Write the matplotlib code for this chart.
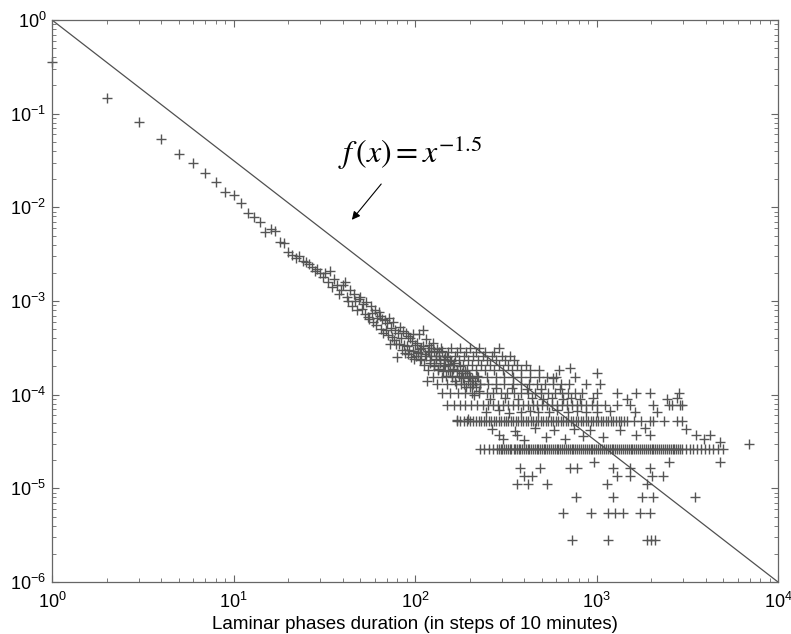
import matplotlib
matplotlib.use("Agg")
import matplotlib.pyplot as plt

plt.rcParams['font.family'] = 'Liberation Sans'
plt.rcParams['mathtext.fontset'] = 'custom'
plt.rcParams['mathtext.rm'] = 'Liberation Sans'
plt.rcParams['mathtext.it'] = 'Liberation Sans:italic'
plt.rcParams['mathtext.bf'] = 'Liberation Sans:bold'

# --- data ---
# short phases, one point per duration
head_x = list(range(1, 31))
head_y = [0.356, 0.147, 0.082, 0.054, 0.037, 0.030, 0.023, 0.0187, 0.0147, 0.0136,
          0.0112, 0.0087, 0.0079, 0.0070, 0.0055, 0.0058, 0.0056, 0.0043, 0.0042, 0.0033,
          0.0031, 0.0029, 0.0030, 0.0027, 0.0026, 0.0025, 0.0023, 0.0021, 0.0022, 0.0020]

mid_x = list(range(31, 101))
mid_y = [0.0018, 0.0020, 0.0016, 0.0021, 0.0014, 0.0017, 0.0015, 0.0012, 0.0013, 0.0015,
         0.0016, 0.0011, 0.0010, 0.0013, 0.00088, 0.0012, 0.0010, 0.00080, 0.00105, 0.0011,
         0.00083, 0.00094, 0.00072, 0.00097, 0.00068, 0.00064, 0.00088, 0.00075, 0.00060, 0.00080,
         0.00055, 0.00066, 0.00076, 0.00069, 0.00050, 0.00065, 0.00046, 0.00062, 0.00049, 0.00058,
         0.00043, 0.00066, 0.00035, 0.00052, 0.00041, 0.00059, 0.00038, 0.00049, 0.00035, 0.00025,
         0.00046, 0.00035, 0.00053, 0.00040, 0.00030, 0.00048, 0.00034, 0.00028, 0.00045, 0.00033,
         0.00027, 0.00042, 0.00030, 0.00040, 0.00025, 0.00037, 0.00044, 0.00029, 0.00024, 0.00034]

mid2_x = [102, 104, 105, 107, 108, 110, 111, 113, 115, 116, 118, 120, 121, 123, 125, 127, 128,
          130, 132, 134, 136, 138, 140, 142, 144, 146, 148, 150, 152, 155, 157, 160, 162, 165,
          167, 170, 171, 174, 176, 179, 182, 185, 188, 190, 193, 195, 196, 199, 202, 205, 208,
          211, 214, 217, 220, 224, 228]
mid2_y = [3.6e-4, 2.8e-4, 4.4e-4, 3.1e-4, 2.4e-4, 4.9e-4, 3.3e-4, 2.7e-4, 3.9e-4, 1.4e-4,
          2.9e-4, 3.4e-4, 2.2e-4, 2.6e-4, 3.6e-4, 2.0e-4, 2.9e-4, 2.4e-4, 3.1e-4, 1.9e-4,
          2.6e-4, 2.2e-4, 2.9e-4, 1.8e-4, 2.4e-4, 2.0e-4, 1.6e-4, 2.5e-4, 2.1e-4, 1.8e-4,
          2.3e-4, 1.6e-4, 1.9e-4, 2.2e-4, 1.4e-4, 5.4e-5, 1.8e-4, 1.6e-4, 2.0e-4, 1.3e-4,
          1.7e-4, 1.5e-4, 1.8e-4, 1.2e-4, 1.7e-4, 5.5e-5, 1.4e-4, 1.6e-4, 1.2e-4, 1.5e-4,
          1.3e-4, 1.0e-4, 1.4e-4, 1.2e-4, 1.6e-4, 1.1e-4, 1.3e-4]

# long phases: probabilities sit on levels of whole counts
levels = [2.6e-5, 5.2e-5, 7.8e-5, 1.04e-4, 1.3e-4, 1.56e-4, 1.82e-4, 2.08e-4, 2.34e-4,
          2.6e-4, 2.86e-4, 3.12e-4]
level_x = [
    [228, 241, 255, 270, 283, 290, 296, 301, 309, 318, 324, 333, 340, 349,
     357, 366, 372, 381, 390, 398, 409, 417, 426, 437, 445, 456, 468, 479, 488, 499, 512, 523,
     537, 549, 561, 574, 590, 603, 617, 632, 648, 662, 679, 695, 711, 729, 746, 765, 783, 802,
     821, 842, 863, 884, 905, 928, 950, 973, 998, 1021, 1046, 1073, 1098, 1125, 1152, 1181,
     1210, 1239, 1270, 1301, 1333, 1366, 1398, 1433, 1468, 1504, 1540, 1578, 1617, 1656, 1697,
     1738, 1781, 1824, 1869, 1915, 1962, 2010, 2059, 2110, 2161, 2214, 2268, 2324, 2381, 2440,
     2500, 2561, 2624, 2689, 2754, 2822, 2891, 2962, 3110, 3260, 3420, 3570, 3760, 3950,
     4150, 4400, 4700, 4950],
    [170, 178, 186, 193, 201, 209, 218, 226, 232, 239, 247, 255, 263, 271, 280, 289, 298, 308,
     317, 327, 338, 348, 359, 371, 383, 395, 408, 421, 434, 448, 463, 478, 493, 509, 525, 542,
     560, 578, 596, 615, 635, 656, 677, 698, 721, 744, 768, 793, 818, 845, 872, 900, 929, 960,
     990, 1022, 1056, 1090, 1125, 1162, 1200, 1240, 1281, 1322, 1365, 1410, 1480, 1600,
     1760, 1960, 2060, 2350, 2780, 2950],
    [150, 163, 176, 188, 204, 219, 236, 252, 268, 287, 305, 326, 346, 369, 392, 418, 444, 472,
     503, 534, 568, 606, 643, 686, 729, 778, 826, 880, 940, 1000, 1120, 1290,
     1520, 2050, 2500, 2880],
    [140, 156, 172, 189, 207, 226, 248, 270, 296, 322, 352, 384, 418, 456, 497, 541, 590, 642,
     700, 762, 830, 1000, 1290, 1660, 1980, 2850],
    [132, 150, 168, 186, 206, 229, 254, 281, 311, 345, 382, 423, 468, 518, 574, 636, 704,
     870, 1050],
    [125, 141, 160, 179, 200, 223, 249, 278, 310, 346, 386, 430, 480, 535, 597, 760],
    [118, 134, 152, 171, 193, 216, 243, 272, 305, 342, 383, 428, 480, 620],
    [112, 127, 144, 162, 183, 206, 231, 259, 290, 325, 365, 410],
    [106, 121, 137, 155, 175, 197, 222, 250, 280, 315, 352],
    [101, 115, 130, 147, 166, 187, 210, 236, 265, 300, 332],
    [104, 119, 135, 152, 171, 192, 216, 243, 274],
    [108, 123, 139, 158, 178, 201, 226, 290],
]

# points of the dense cloud lying between the count levels
between_x = [245, 258, 266, 279, 292, 305, 314, 330, 343, 356, 368, 385, 397, 412, 428, 441,
             459, 476, 494, 510, 528, 546, 566, 585, 606, 628, 650, 674, 697, 724, 752, 781,
             812, 845, 880, 918, 957, 1010, 1085, 1180, 1340, 1480, 1620, 1850, 2150, 2450,
             3100, 3900]
between_y = [6.6e-5, 9.1e-5, 4.3e-5, 1.17e-4, 6.8e-5, 3.4e-5, 9.3e-5, 6.4e-5, 1.18e-4, 4.1e-5,
             9.0e-5, 6.6e-5, 3.3e-5, 1.15e-4, 6.7e-5, 9.2e-5, 4.4e-5, 6.5e-5, 1.16e-4, 9.1e-5,
             3.5e-5, 6.6e-5, 9.3e-5, 4.2e-5, 6.8e-5, 1.14e-4, 9.0e-5, 3.4e-5, 6.5e-5, 9.2e-5,
             4.3e-5, 6.7e-5, 9.1e-5, 3.6e-5, 6.6e-5, 4.2e-5, 9.3e-5, 6.5e-5, 3.5e-5, 6.7e-5,
             4.2e-5, 9.0e-5, 6.6e-5, 4.4e-5, 6.5e-5, 9.1e-5, 4.3e-5, 3.4e-5]

# scattered points off the levels
extra_x = [290, 363, 1660, 1970, 3550, 4200, 4800, 6900,
           970, 2500, 4800,
           377, 488, 711, 780, 1230, 1520, 1960,
           400, 440, 1290, 1520, 2020, 2320,
           363, 420, 533, 1142, 1900,
           770, 1230, 1780, 2050, 3470,
           650, 930, 1160, 1260, 1400, 1740, 1980,
           730, 1160, 1900, 2000, 2090,
           710, 1000, 575, 2770, 2600, 2960]
extra_y = [3.7e-5, 3.7e-5, 3.7e-5, 3.7e-5, 3.7e-5, 3.7e-5, 3.1e-5, 3.0e-5,
           1.9e-5, 1.9e-5, 1.9e-5,
           1.65e-5, 1.65e-5, 1.65e-5, 1.65e-5, 1.65e-5, 1.65e-5, 1.65e-5,
           1.34e-5, 1.34e-5, 1.34e-5, 1.34e-5, 1.34e-5, 1.34e-5,
           1.12e-5, 1.12e-5, 1.12e-5, 1.12e-5, 1.12e-5,
           8.1e-6, 8.1e-6, 8.1e-6, 8.1e-6, 8.1e-6,
           5.4e-6, 5.4e-6, 5.4e-6, 5.4e-6, 5.4e-6, 5.4e-6, 5.4e-6,
           2.8e-6, 2.8e-6, 2.8e-6, 2.8e-6, 2.8e-6,
           1.94e-4, 1.7e-4, 1.5e-4, 9.2e-5, 7.7e-5, 7.7e-5]

line_x = [1, 1e4]
exponent = -1.5

# assemble all points
xs = head_x + mid_x + mid2_x + between_x + extra_x
ys = head_y + mid_y + mid2_y + between_y + extra_y
for lev, lx in zip(levels, level_x):
    xs += lx
    ys += [lev] * len(lx)

fig = plt.figure(figsize=(7.91, 6.34), dpi=100)
ax = fig.add_axes([52 / 791, 52 / 634, 726 / 791, 562 / 634])

ax.plot(xs, ys, linestyle='none', marker='+', color='#555555', ms=7.5, mew=1.0,
        clip_on=False)
ax.plot(line_x, [v ** exponent for v in line_x], color='#505050', lw=0.9)

ax.set_xscale('log')
ax.set_yscale('log')
ax.set_xlim(1, 1e4)
ax.set_ylim(1e-6, 1)

for s in ax.spines.values():
    s.set_color('#666666')
    s.set_linewidth(0.9)
ax.tick_params(which='both', direction='in', top=True, right=True, colors='#666666',
               labelcolor='black', labelsize=13)
ax.tick_params(which='major', length=5)
ax.tick_params(which='minor', length=3)
ax.tick_params(axis='x', pad=7)
ax.tick_params(axis='y', pad=4)

ax.set_xlabel('Laminar phases duration (in steps of 10 minutes)', fontsize=13.5, labelpad=3)

# annotation
ax.text(37.7, 0.0298, r'$f\,(x) = x^{-1.5}$', fontsize=23, math_fontfamily='stix',
        va='baseline', ha='left')
ax.annotate('', xy=(43.9, 0.00698), xytext=(66.6, 0.0187),
            arrowprops=dict(arrowstyle='-|>', color='black', lw=0.8, mutation_scale=12))

fig.savefig('out.png', dpi=100)
